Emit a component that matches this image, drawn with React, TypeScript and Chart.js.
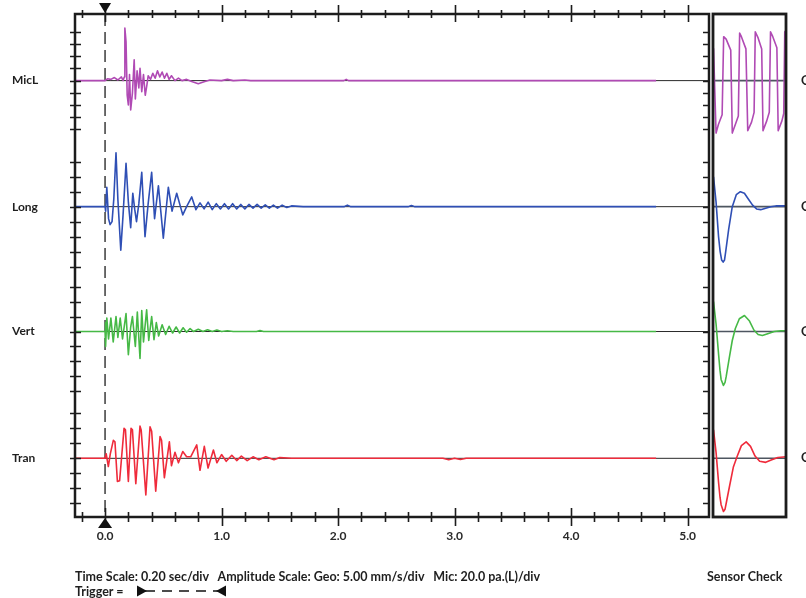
import React, { useEffect, useRef } from 'react';
import { Chart, registerables } from 'chart.js';

Chart.register(...registerables);

// ---------- data ----------
const CHANNELS = ['MicL', 'Long', 'Vert', 'Tran'];
const CHANNEL_COLORS = ['#b04ab4', '#2f4fb5', '#46b946', '#ef2b3b'];
// baseline of each channel on the shared vertical axis (in geo divisions from the bottom)
const CHANNEL_BASELINES = [29.15, 20.73, 12.39, 3.92];
// physical units per division: Mic 20.0 pa/div, Geo 5.00 mm/s/div
const CHANNEL_UNITS_PER_DIV = [20, 5, 5, 5];
// height of one amplitude division of each channel on the shared axis
const CHANNEL_DIV_HEIGHT = [0.815, 1, 1, 1];
const CHANNEL_TICK_OFFSETS = [
  [-4, -3, -2, -1, 0, 1, 2, 3, 4],
  [-4, -3, -2, -1, 0, 1, 2, 3],
  [-4, -3, -2, -1, 0, 1, 2, 3],
  [-4, -3, -2, -1, 0, 1, 2, 3],
];
const CHANNEL_STATUS = ['OK', 'OK', 'OK', 'OK'];

const X_MIN = -0.258;
const X_MAX = 5.184;
const X_TICKS = [-0.2, 0, 0.2, 0.4, 0.6, 0.8, 1.0, 1.2, 1.4, 1.6, 1.8, 2.0, 2.2, 2.4, 2.6, 2.8, 3.0, 3.2, 3.4, 3.6, 3.8, 4.0, 4.2, 4.4, 4.6, 4.8, 5.0];
const X_TICK_LABELS = ['0.0', '1.0', '2.0', '3.0', '4.0', '5.0'];
const TRIGGER_TIME = 0;

// waveforms: [time (s), amplitude] ; MicL in pa, geophones in mm/s
const MICL_TRACE: [number, number][] = [
  [-0.258, 0], [0, 0], [0.02, 3], [0.05, 2], [0.08, 5], [0.11, 1], [0.14, 6], [0.155, 0], [0.165, 6],
  [0.17, 86], [0.18, 64], [0.19, -24], [0.2, -40], [0.21, 10], [0.22, -48], [0.235, -20], [0.25, 34],
  [0.26, -30], [0.275, 16], [0.29, -12], [0.3, 20], [0.315, -18], [0.33, 10], [0.345, -24], [0.36, -6],
  [0.37, 8], [0.39, 2], [0.41, 12], [0.43, 4], [0.45, 16], [0.47, 6], [0.49, 14], [0.51, 4], [0.53, 12],
  [0.55, 2], [0.57, 8], [0.6, 0], [0.63, 4], [0.66, 0], [0.7, 2], [0.75, -2], [0.8, -5], [0.85, -2],
  [0.9, 1], [1.0, 0], [1.05, 2], [1.1, 0], [1.2, 1], [1.25, 0], [2.05, 0], [2.07, 2], [2.09, 0], [4.73, 0],
];
const LONG_TRACE: [number, number][] = [
  [-0.258, 0], [0, 0], [0.005, -1.5], [0.015, 6.5], [0.03, -4], [0.043, -6], [0.06, -5], [0.075, 2.5],
  [0.094, 18], [0.11, 2.5], [0.135, -14.5], [0.155, -2.5], [0.18, 14.5], [0.2, 1.5], [0.22, -7],
  [0.238, 4.5], [0.255, -1], [0.27, -5], [0.29, 1], [0.315, 11.5], [0.343, -10], [0.37, 1], [0.4, 11.5],
  [0.425, -4], [0.44, 1], [0.458, 7], [0.5, -10.5], [0.543, 6.5], [0.575, -1.5], [0.615, 4.5],
  [0.667, -2.75], [0.7, 0], [0.744, 3.25], [0.78, -1], [0.815, 1.25], [0.85, -0.75], [0.885, 1.5],
  [0.92, -1], [0.955, 1], [0.99, -0.75], [1.025, 1], [1.06, -0.75], [1.095, 1], [1.13, -0.75],
  [1.165, 0.75], [1.2, -0.75], [1.235, 0.75], [1.27, -0.5], [1.305, 0.75], [1.34, -0.5], [1.375, 0.6],
  [1.41, -0.5], [1.445, 0.5], [1.48, -0.5], [1.52, 0.5], [1.56, -0.25], [1.6, 0.25], [1.7, 0],
  [2.05, 0], [2.08, 0.5], [2.11, 0], [2.6, 0], [2.63, 0.4], [2.66, 0], [4.73, 0],
];
const VERT_TRACE: [number, number][] = [
  [-0.258, 0], [0, 0], [0.003, 3], [0.006, -5], [0.015, 4.5], [0.03, -2.5], [0.05, 4.5], [0.07, -3.5],
  [0.094, 5], [0.11, -2], [0.13, 4.5], [0.15, -2.5], [0.18, 6], [0.2, -7.75], [0.22, 1.5], [0.235, 5],
  [0.26, -5], [0.277, 6.5], [0.3, -9], [0.315, 7], [0.33, -3.5], [0.357, 7.25], [0.375, -3], [0.4, 5],
  [0.42, -2.75], [0.44, 3], [0.46, -1.5], [0.49, 2.25], [0.52, -1], [0.55, 1.75], [0.58, -0.5],
  [0.61, 1.5], [0.64, -0.5], [0.67, 1.25], [0.7, -0.25], [0.73, 1], [0.76, 0], [0.8, 0.75], [0.84, 0],
  [0.88, 0.6], [0.92, 0], [0.96, 0.5], [1.0, 0], [1.05, 0.25], [1.1, 0], [1.3, 0], [1.33, 0.3],
  [1.36, 0], [4.73, 0],
];
const TRAN_TRACE: [number, number][] = [
  [-0.258, 0], [0, 0], [0.01, 1.5], [0.028, -2.75], [0.045, 1.5], [0.071, 6], [0.085, 5.5],
  [0.106, -7.75], [0.125, -7.5], [0.163, 10], [0.175, 9.5], [0.2, -7.75], [0.223, 10], [0.235, 9.5],
  [0.264, -8.5], [0.3, 10.75], [0.31, 9.5], [0.35, -12.25], [0.386, 10.5], [0.4, 9], [0.435, -11],
  [0.472, 7.25], [0.485, 6], [0.509, -6.5], [0.552, 5.5], [0.57, -2.5], [0.6, 2], [0.63, -1.5],
  [0.667, 2.25], [0.7, 0.5], [0.735, 0.5], [0.787, 4.5], [0.815, -4], [0.852, 4], [0.884, -3.25],
  [0.93, 2.75], [0.96, -1.5], [1.0, 1.25], [1.04, -1], [1.088, 1], [1.13, -0.75], [1.17, 0.75],
  [1.22, -0.75], [1.27, 0.5], [1.32, -0.5], [1.38, 0.5], [1.45, -0.5], [1.5, 0.25], [1.6, 0],
  [2.9, 0], [2.95, -0.5], [3.0, 0], [3.05, -0.4], [3.1, 0], [4.73, 0],
];

// sensor check responses: [sample position 0..100, amplitude]
const SENSOR_X_MAX = 100;
const MICL_SENSOR: [number, number][] = [
  [0.7, 53], [4.2, -86], [7.4, -72], [12.5, -56], [14.6, 72], [18, 68], [24.3, 50], [26.4, -86],
  [30.6, -72], [34.7, -58], [36.5, 78], [38.9, 72], [45.1, 52], [47.6, -82], [52.8, -68], [56.3, -52],
  [57.9, 80], [61.8, 70], [66.7, 52], [68.5, -82], [73.6, -66], [77.1, -52], [78.8, 80], [81.9, 72],
  [87.5, 54], [89.3, -82], [94.4, -66], [96.9, -54], [98.3, 80], [100, 82],
];
const LONG_SENSOR: [number, number][] = [
  [0.7, 10], [4.2, 1.5], [7.6, -10], [9.8, -15], [11.8, -17.8], [13.9, -18.5], [15.8, -17.8],
  [17.4, -15], [21.5, -7.5], [26.4, 0], [31.9, 4], [37.5, 5], [43, 4.5], [48.6, 2.5], [54.2, 0.5],
  [59.7, -0.75], [65.3, -1], [72.2, -0.5], [79.2, 0], [86.1, 0.25], [100, 0.25],
];
const VERT_SENSOR: [number, number][] = [
  [0.7, 10], [4.2, 2.5], [7.6, -7.5], [9.6, -13], [11.1, -16], [14.3, -18], [16.5, -17], [18.1, -15],
  [22.2, -9], [26.4, -3], [30.6, 1], [36.1, 4.25], [43.1, 5.35], [50, 3.5], [56, 0.5], [61.8, -1],
  [67.6, -1.35], [75, -0.75], [83.8, 0], [93, 0.25], [100, 0.25],
];
const TRAN_SENSOR: [number, number][] = [
  [0.7, 9.5], [4.2, 2], [7.6, -8], [9.6, -13], [11.1, -15.5], [14.3, -17.75], [16.5, -17], [18.1, -15],
  [22.9, -9], [27.8, -3], [32.9, 0.5], [38.9, 4.25], [45.4, 5.5], [51.4, 4], [57.6, 0.75], [63.9, -1],
  [72.2, -1.35], [80.6, -0.5], [88.9, 0.25], [100, 0.5],
];

const MAIN_TRACES = [MICL_TRACE, LONG_TRACE, VERT_TRACE, TRAN_TRACE];
const SENSOR_TRACES = [MICL_SENSOR, LONG_SENSOR, VERT_SENSOR, TRAN_SENSOR];

const FOOTER_SCALE = 'Time Scale: 0.20 sec/div   Amplitude Scale: Geo: 5.00 mm/s/div   Mic: 20.0 pa.(L)/div';
const FOOTER_TRIGGER = 'Trigger =';
const SENSOR_TITLE = 'Sensor Check';

// ---------- layout ----------
const W = 806;
const H = 598;
const Y_MAX = 33.6;
const AREA_TOP = 14;
const AREA_BOTTOM = 517;
const MAIN_LEFT = 75;
const MAIN_RIGHT = 709;
const SENSOR_LEFT = 713;
const SENSOR_RIGHT = 786;
const FONT = 'Lato, "Open Sans", sans-serif';
const INK = '#1c1c1c';

const toAxis = (i: number, v: number) =>
  CHANNEL_BASELINES[i] + (v / CHANNEL_UNITS_PER_DIV[i]) * CHANNEL_DIV_HEIGHT[i];

const Y_TICKS: number[] = [];
CHANNEL_BASELINES.forEach((b, i) => {
  CHANNEL_TICK_OFFSETS[i].forEach((k) => {
    const v = b + k * CHANNEL_DIV_HEIGHT[i];
    if (v >= -0.01 && v <= Y_MAX) Y_TICKS.push(v);
  });
});

const isMajor = (v: number) => Math.abs(v - Math.round(v)) < 1e-6;

const mainDecor = {
  id: 'mainDecor',
  beforeDatasetsDraw(chart: any) {
    const { ctx, chartArea: a, scales } = chart;
    const px = scales.x.getPixelForValue(TRIGGER_TIME);
    ctx.save();
    ctx.strokeStyle = '#3c3c3c';
    ctx.lineWidth = 1.5;
    ctx.setLineDash([12, 6]);
    ctx.beginPath();
    ctx.moveTo(px, a.top);
    ctx.lineTo(px, a.bottom);
    ctx.stroke();
    ctx.restore();
  },
  afterDatasetsDraw(chart: any) {
    const { ctx, chartArea: a, scales } = chart;
    ctx.save();
    ctx.strokeStyle = INK;
    ctx.lineWidth = 1.6;
    scales.y.ticks.forEach((t: any) => {
      const py = Math.round(scales.y.getPixelForValue(t.value)) + 0.5;
      ctx.beginPath();
      ctx.moveTo(a.left - 5, py);
      ctx.lineTo(a.left + 6, py);
      ctx.moveTo(a.right - 6, py);
      ctx.lineTo(a.right, py);
      ctx.stroke();
    });
    scales.x.ticks.forEach((t: any) => {
      const px = Math.round(scales.x.getPixelForValue(t.value)) + 0.5;
      const major = isMajor(t.value);
      ctx.beginPath();
      if (major) {
        ctx.moveTo(px, a.bottom - 9);
        ctx.lineTo(px, a.bottom + 9);
        ctx.moveTo(px, a.top - 9);
        ctx.lineTo(px, a.top + 8);
      } else {
        ctx.moveTo(px, a.bottom - 5);
        ctx.lineTo(px, a.bottom + 5);
        ctx.moveTo(px, a.top - 4);
        ctx.lineTo(px, a.top + 4);
      }
      ctx.stroke();
    });
    ctx.lineWidth = 2.5;
    ctx.strokeRect(a.left, a.top, a.right - a.left, a.bottom - a.top);
    const tx = scales.x.getPixelForValue(TRIGGER_TIME);
    ctx.fillStyle = '#111';
    ctx.beginPath();
    ctx.moveTo(tx - 6, a.top - 11);
    ctx.lineTo(tx + 6, a.top - 11);
    ctx.lineTo(tx, a.top - 1);
    ctx.closePath();
    ctx.fill();
    ctx.beginPath();
    ctx.moveTo(tx - 7, a.bottom + 11);
    ctx.lineTo(tx + 7, a.bottom + 11);
    ctx.lineTo(tx, a.bottom + 1);
    ctx.closePath();
    ctx.fill();
    ctx.restore();
  },
};

const sensorDecor = {
  id: 'sensorDecor',
  afterDatasetsDraw(chart: any) {
    const { ctx, chartArea: a } = chart;
    ctx.save();
    ctx.strokeStyle = INK;
    ctx.lineWidth = 2.8;
    ctx.strokeRect(a.left, a.top, a.right - a.left, a.bottom - a.top);
    ctx.restore();
  },
};

function lineDs(data: { x: number; y: number }[], color: string, width: number, order: number) {
  return {
    data,
    borderColor: color,
    borderWidth: width,
    pointRadius: 0,
    tension: 0,
    fill: false,
    borderJoinStyle: 'round',
    order,
  };
}

export default function App() {
  const mainRef = useRef<HTMLCanvasElement>(null);
  const sensorRef = useRef<HTMLCanvasElement>(null);

  useEffect(() => {
    const mainDatasets: any[] = [];
    MAIN_TRACES.forEach((tr, i) => {
      mainDatasets.push(
        lineDs(tr.map(([t, v]) => ({ x: t, y: toAxis(i, v) })), CHANNEL_COLORS[i], 1.6, 0),
      );
    });
    CHANNEL_BASELINES.forEach((b) => {
      mainDatasets.push(lineDs([{ x: X_MIN, y: b }, { x: X_MAX, y: b }], '#2a2a2a', 1, 1));
    });

    const main = new Chart(mainRef.current!, {
      type: 'line',
      data: { datasets: mainDatasets },
      plugins: [mainDecor],
      options: {
        responsive: false,
        animation: false,
        events: [],
        layout: { padding: { left: 12, right: W - MAIN_RIGHT, top: AREA_TOP, bottom: 0 } },
        plugins: { legend: { display: false }, tooltip: { enabled: false } },
        scales: {
          x: {
            type: 'linear',
            min: X_MIN,
            max: X_MAX,
            afterBuildTicks: (s: any) => {
              s.ticks = X_TICKS.map((value) => ({ value }));
            },
            afterFit: (s: any) => {
              s.height = H - AREA_BOTTOM;
            },
            grid: { display: false, drawTicks: false },
            border: { display: false },
            ticks: {
              autoSkip: false,
              maxRotation: 0,
              padding: 12,
              color: '#2a2a2a',
              font: { family: FONT, size: 12, weight: 'bold' },
              callback: (value: any) => {
                const v = Number(value);
                if (!isMajor(v) || v < 0) return '';
                return X_TICK_LABELS[Math.round(v)] ?? '';
              },
            },
          },
          y: {
            type: 'linear',
            min: 0,
            max: Y_MAX,
            afterBuildTicks: (s: any) => {
              s.ticks = Y_TICKS.map((value) => ({ value }));
            },
            afterFit: (s: any) => {
              s.width = MAIN_LEFT - 12;
            },
            grid: { display: false, drawTicks: false },
            border: { display: false },
            ticks: {
              autoSkip: false,
              crossAlign: 'far',
              padding: 0,
              color: '#1f1f1f',
              font: { family: FONT, size: 12, weight: 'bold' },
              callback: (value: any) => {
                const idx = CHANNEL_BASELINES.findIndex((b) => Math.abs(b - Number(value)) < 1e-6);
                return idx >= 0 ? CHANNELS[idx] : '';
              },
            },
          },
        },
      } as any,
    });

    const sensorDatasets: any[] = [];
    SENSOR_TRACES.forEach((tr, i) => {
      sensorDatasets.push(
        lineDs(tr.map(([t, v]) => ({ x: t, y: toAxis(i, v) })), CHANNEL_COLORS[i], 1.6, 0),
      );
    });
    CHANNEL_BASELINES.forEach((b) => {
      sensorDatasets.push(lineDs([{ x: 0, y: b }, { x: SENSOR_X_MAX, y: b }], '#4e5660', 1.6, 1));
    });

    const sensor = new Chart(sensorRef.current!, {
      type: 'line',
      data: { datasets: sensorDatasets },
      plugins: [sensorDecor],
      options: {
        responsive: false,
        animation: false,
        events: [],
        layout: {
          padding: { left: SENSOR_LEFT, right: W - SENSOR_RIGHT, top: AREA_TOP, bottom: H - AREA_BOTTOM },
        },
        plugins: { legend: { display: false }, tooltip: { enabled: false } },
        scales: {
          x: { type: 'linear', min: 0, max: SENSOR_X_MAX, display: false },
          y: { type: 'linear', min: 0, max: Y_MAX, display: false },
        },
      } as any,
    });

    return () => {
      main.destroy();
      sensor.destroy();
    };
  }, []);

  const textStyle: React.CSSProperties = {
    position: 'absolute',
    fontFamily: FONT,
    fontWeight: 700,
    fontSize: 12.5,
    lineHeight: '14px',
    color: '#1f1f1f',
    whiteSpace: 'pre',
  };

  const pxForBaseline = (b: number) => AREA_BOTTOM - (b / Y_MAX) * (AREA_BOTTOM - AREA_TOP);

  return (
    <div style={{ position: 'absolute', left: 0, top: 0, width: W, height: H, overflow: 'hidden', background: '#fff' }}>
      <canvas ref={mainRef} width={W} height={H} style={{ position: 'absolute', left: 0, top: 0 }} />
      <canvas ref={sensorRef} width={W} height={H} style={{ position: 'absolute', left: 0, top: 0 }} />
      <div style={{ ...textStyle, left: 75, top: 570 }}>{FOOTER_SCALE}</div>
      <div style={{ ...textStyle, left: 75, top: 585 }}>{FOOTER_TRIGGER}</div>
      <svg style={{ position: 'absolute', left: 137, top: 585 }} width={92} height={13}>
        <polygon points="0,0.5 10,6 0,11.5" fill="#111" />
        <line x1={8} y1={6} x2={82} y2={6} stroke="#111" strokeWidth={1.3} strokeDasharray="10 7" />
        <polygon points="89,0.5 79,6 89,11.5" fill="#111" />
      </svg>
      <div style={{ ...textStyle, left: 707, top: 570 }}>{SENSOR_TITLE}</div>
      {CHANNEL_STATUS.map((s, i) => (
        <div key={i} style={{ ...textStyle, left: 801, top: pxForBaseline(CHANNEL_BASELINES[i]) - 7 }}>
          {s}
        </div>
      ))}
    </div>
  );
}
